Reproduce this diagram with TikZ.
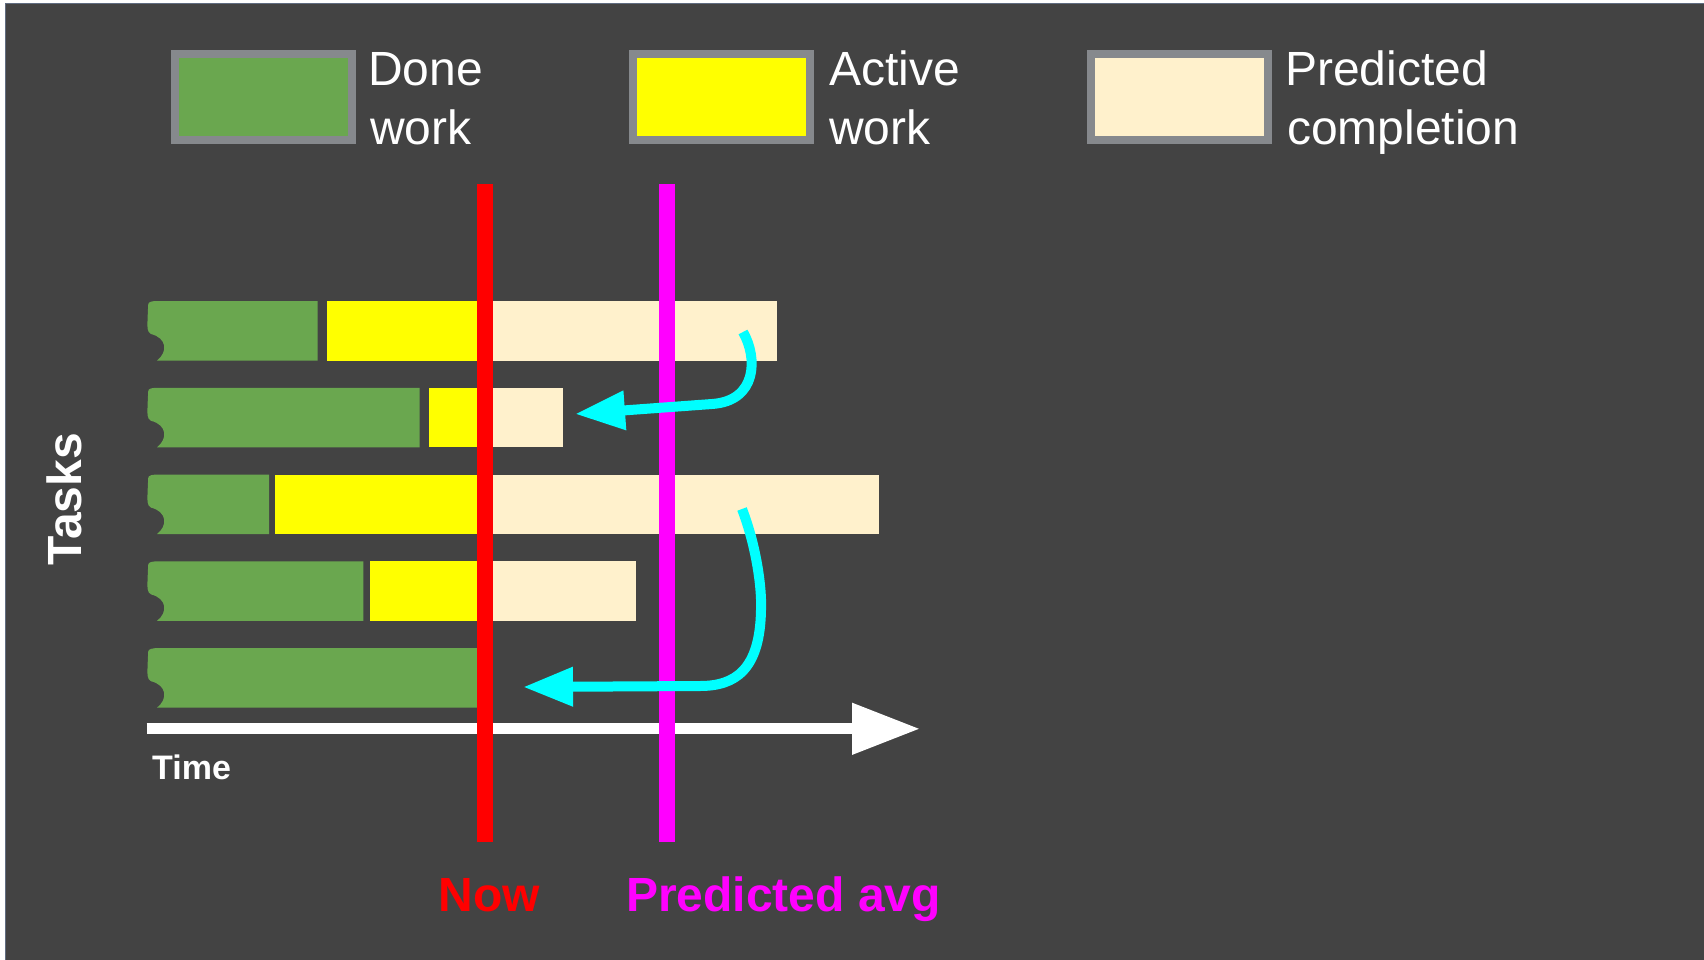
\documentclass[tikz,border=0pt]{standalone}
\usepackage{fontspec}
\setmainfont{Liberation Sans}
\usetikzlibrary{arrows.meta}

\definecolor{slidebg}{RGB}{67,67,67}
\definecolor{slideedge}{RGB}{96,108,128}
\definecolor{donegreen}{RGB}{106,167,79}
\definecolor{activeyellow}{RGB}{255,255,0}
\definecolor{predbeige}{RGB}{255,241,204}
\definecolor{legborder}{RGB}{134,137,141}
\definecolor{nowred}{RGB}{255,0,0}
\definecolor{avgmagenta}{RGB}{255,0,255}
\definecolor{movecyan}{RGB}{0,255,255}

\tikzset{
  legbox/.style={draw=legborder, line width=8pt, minimum width=177pt,
    minimum height=86pt, inner sep=0pt},
  legtext/.style={text=white, font=\fontsize{48}{58}\selectfont,
    inner sep=0pt, anchor=base west},
  boldlabel/.style={font=\bfseries\fontsize{48}{58}\selectfont,
    inner sep=0pt, anchor=base west},
  marker/.style={line width=16pt},
  movearrow/.style={movecyan, line width=10pt,
    -{Triangle[length=50pt,width=37pt]}},
  timeaxis/.style={white, line width=11pt,
    -{Triangle[length=68pt,width=49pt]}},
}

\begin{document}
\begin{tikzpicture}[x=1pt,y=-1pt]
\useasboundingbox (0,0) rectangle (1704,960);
% slide background
\fill[white] (0,0) rectangle (1704,960);
\fill[slidebg, draw=slideedge, line width=1pt] (5.5,3.5) rectangle (1706,962);

% legend
\node[legbox, fill=donegreen]    (lgdone)   at (263.9,97.2) {};
\node[legbox, fill=activeyellow] (lgactive) at (721.8,97.2) {};
\node[legbox, fill=predbeige]    (lgpred)   at (1179.9,97.2) {};
\node[legtext] (lgdoneA)   at (368,86)  {Done};
\node[legtext] (lgdoneB)   at (370,145) {work};
\node[legtext] (lgactiveA) at (829,86)  {Active};
\node[legtext] (lgactiveB) at (829,145) {work};
\node[legtext] (lgpredA)   at (1285,86)  {Predicted};
\node[legtext] (lgpredB)   at (1287,145) {completion};

% task bars: top / end of done / start of active / end of predicted
\foreach \t/\g/\ys/\pe in {301/317.7/326.7/777.3, 387.8/419.7/428.7/563.3,
                           474.6/269/275.3/879.3, 561.4/363.3/370/636}{
  \fill[donegreen] (148,\t+8) .. controls (148,\t+1) .. (155,\t) -- (\g,\t)
    -- (\g,\t+59.5) -- (157,\t+59.5)
    .. controls (168,\t+51) and (167,\t+37) .. (151,\t+33)
    .. controls (147,\t+30) .. (148,\t+8) -- cycle;
  \fill[activeyellow] (\ys,\t) rectangle (485,\t+59.5);
  \fill[predbeige] (485,\t) rectangle (\pe,\t+59.5);
}
\def\t{648.2}
\fill[donegreen] (148,\t+8) .. controls (148,\t+1) .. (155,\t) -- (485,\t)
  -- (485,\t+59.5) -- (157,\t+59.5)
  .. controls (168,\t+51) and (167,\t+37) .. (151,\t+33)
  .. controls (147,\t+30) .. (148,\t+8) -- cycle;

% time axis
\coordinate (axstart) at (146.7,728.8);
\coordinate (axend)   at (920,728.8);
\draw[timeaxis] (axstart) -- (axend);
\node[text=white, font=\bfseries\fontsize{34}{40}\selectfont, inner sep=0pt,
  anchor=base west] (timelbl) at (152,779) {Time};

% task axis label
\node[text=white, font=\bfseries\fontsize{48}{58}\selectfont, inner sep=0pt,
  rotate=90, anchor=base] (taskslbl) at (81.7,499.5) {Tasks};

% now / predicted average markers
\coordinate (nowtop) at (485,184);
\coordinate (nowbot) at (485,842);
\coordinate (avgtop) at (667,184);
\coordinate (avgbot) at (667,842);
\draw[marker, nowred] (nowtop) -- (nowbot);
\draw[marker, avgmagenta] (avgtop) -- (avgbot);
\node[boldlabel, text=nowred] (nowlbl) at (438.5,911) {Now};
\node[boldlabel, text=avgmagenta] (avglbl) at (626,911) {Predicted avg};

% reordering arrows
\coordinate (mvAfrom) at (743,332);
\coordinate (mvAto)   at (575,414);
\coordinate (mvBfrom) at (742,509);
\coordinate (mvBto)   at (523,687);
\draw[movearrow] (mvAfrom) .. controls (758,358) and (757,401) .. (712,404)
  -- (mvAto);
\draw[movearrow] (mvBfrom) .. controls (757,548) and (762,590) .. (761,610)
  .. controls (760,670) and (735,686) .. (700,686) -- (mvBto);
\end{tikzpicture}
\end{document}
